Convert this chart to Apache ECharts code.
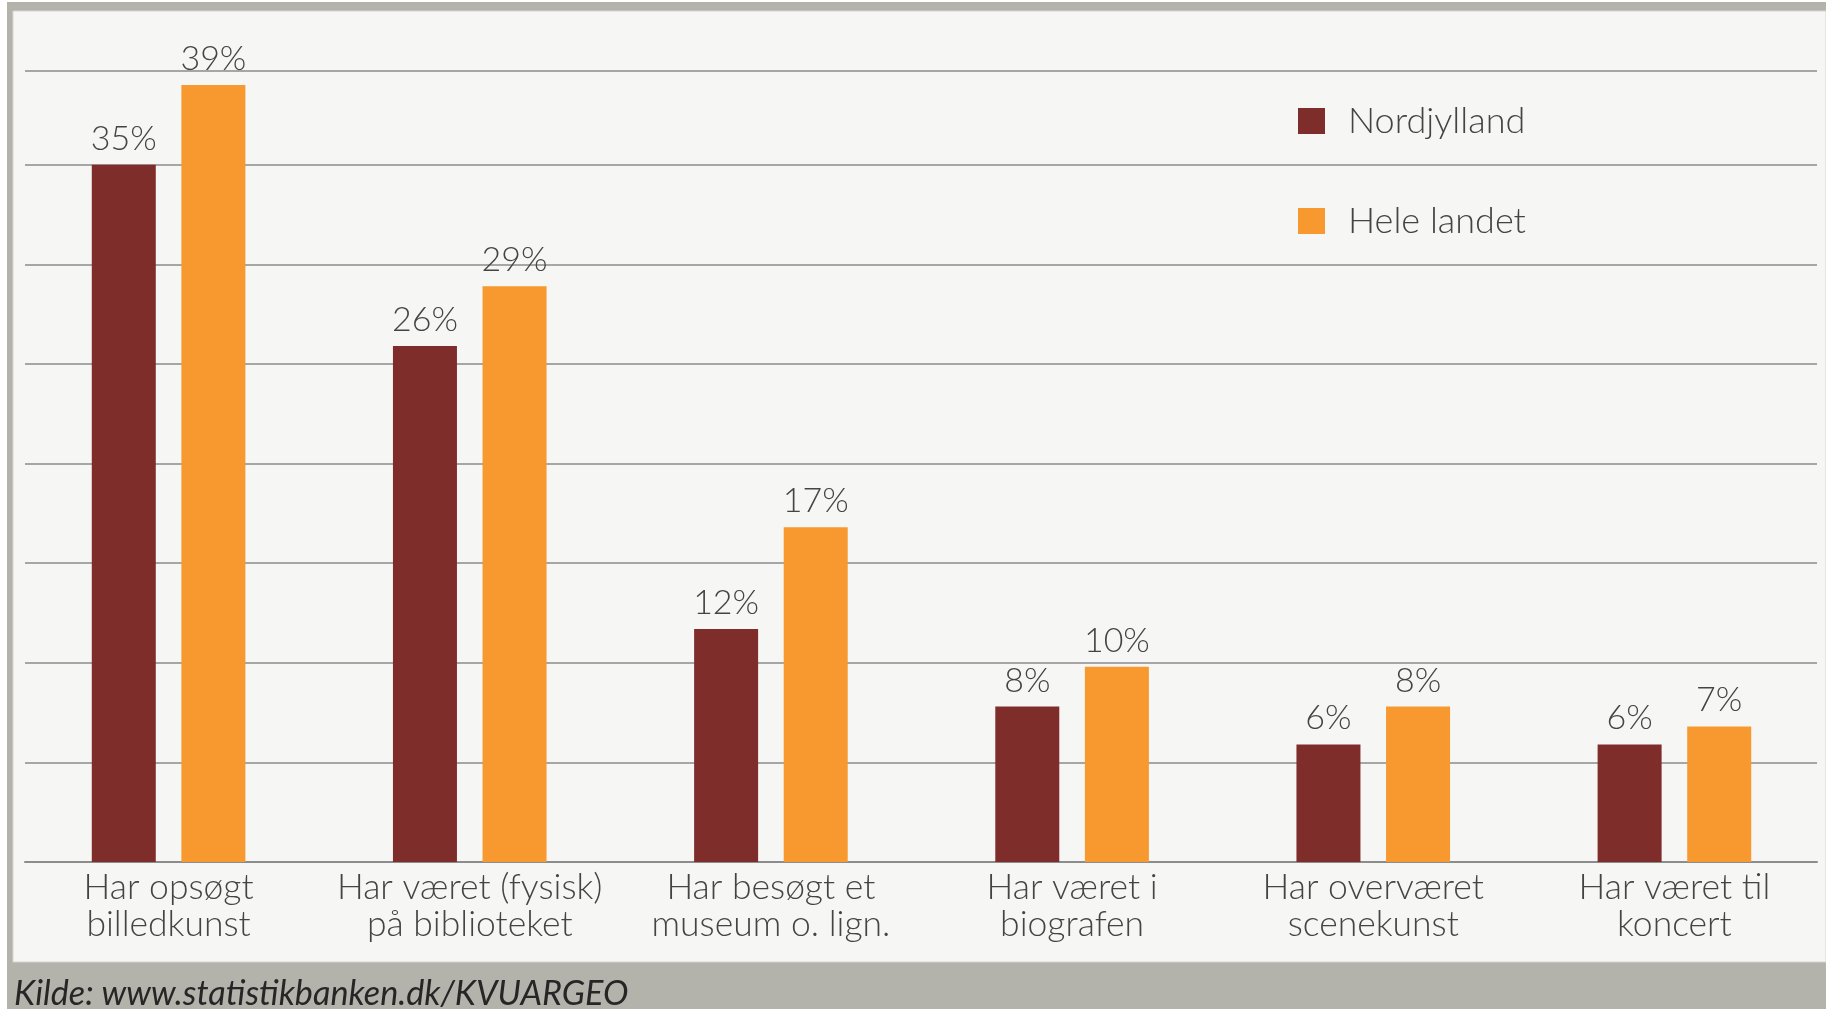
<!DOCTYPE html>
<html>
<head>
<meta charset="utf-8">
<script src="https://cdn.jsdelivr.net/npm/echarts@6/dist/echarts.min.js"></script>
<style>
html,body{margin:0;padding:0;background:#ffffff;}
#chart{width:1826px;height:1009px;}
</style>
</head>
<body>
<div id="chart"></div>
<script>
const categories = [
  'Har opsøgt\nbilledkunst',
  'Har været (fysisk)\npå biblioteket',
  'Har besøgt et\nmuseum o. lign.',
  'Har været i\nbiografen',
  'Har overværet\nscenekunst',
  'Har været til\nkoncert'
];
const seriesNames = ['Nordjylland', 'Hele landet'];
const nordjylland = [35, 25.9, 11.7, 7.8, 5.9, 5.9];
const heleLandet  = [39, 28.9, 16.8, 9.8, 7.8, 6.8];
const sourceText = 'Kilde: www.statistikbanken.dk/KVUARGEO';

const FONT = 'Lato';
const TEXT = '#444444';
const MAROON = '#7f2d2b';
const ORANGE = '#f7992e';

const chart = echarts.init(document.getElementById('chart'), null, {renderer: 'canvas'});

const yMax = 39.7;
const labelOpt = {
  show: true,
  position: 'top',
  distance: 9,
  color: TEXT,
  fontFamily: FONT,
  fontWeight: 300,
  fontSize: 34,
  formatter: p => Math.round(p.value) + '%'
};

chart.setOption({
  backgroundColor: '#b3b3ab',
  animation: false,
  graphic: [
    {type: 'rect', z: -10, shape: {x: 0, y: 0, width: 7, height: 1009}, style: {fill: '#ffffff'}},
    {type: 'rect', z: -10, shape: {x: 0, y: 0, width: 1826, height: 2}, style: {fill: '#ffffff'}},
    {type: 'rect', z: -9, shape: {x: 13, y: 11, width: 1813, height: 951}, style: {fill: '#f6f6f4', stroke: '#d6d6d0', lineWidth: 1}},
    {type: 'text', z: 10, left: 14, top: 977, style: {text: sourceText, fill: '#262626', font: 'italic 400 34.2px ' + FONT}}
  ],
  legend: {
    data: seriesNames,
    orient: 'vertical',
    left: 1293,
    top: 98,
    icon: 'rect',
    itemWidth: 27,
    itemHeight: 26,
    itemGap: 64,
    textStyle: {color: TEXT, fontFamily: FONT, fontWeight: 300, fontSize: 36, padding: [0, 0, 0, 18]}
  },
  grid: [
    {left: 25, right: 9, top: 71, bottom: 147},
    {left: 18, right: 1, top: 71, bottom: 147}
  ],
  xAxis: [
    {type: 'category', gridIndex: 0, data: categories, show: true,
     axisLine: {show: true, lineStyle: {color: '#8c8c8c', width: 2}},
     axisTick: {show: false}, axisLabel: {show: false}, splitLine: {show: false}},
    {type: 'category', gridIndex: 1, data: categories,
     axisLine: {show: false}, axisTick: {show: false},
     axisLabel: {show: true, interval: 0, color: TEXT, fontFamily: FONT, fontWeight: 300, fontSize: 35.5, lineHeight: 37, margin: 7}}
  ],
  yAxis: [
    {type: 'value', gridIndex: 0, min: 0, max: yMax, interval: 5,
     axisLine: {show: false}, axisTick: {show: false}, axisLabel: {show: false},
     splitLine: {show: true, lineStyle: {color: '#a6a6a6', width: 2}}},
    {type: 'value', gridIndex: 1, min: 0, max: yMax, interval: 5,
     axisLine: {show: false}, axisTick: {show: false}, axisLabel: {show: false},
     splitLine: {show: false}}
  ],
  series: [
    {name: seriesNames[0], type: 'bar', xAxisIndex: 1, yAxisIndex: 1, data: nordjylland,
     barWidth: 64, barGap: '40%', itemStyle: {color: MAROON}, label: labelOpt},
    {name: seriesNames[1], type: 'bar', xAxisIndex: 1, yAxisIndex: 1, data: heleLandet,
     barWidth: 64, barGap: '40%', itemStyle: {color: ORANGE}, label: labelOpt}
  ]
});
</script>
</body>
</html>
